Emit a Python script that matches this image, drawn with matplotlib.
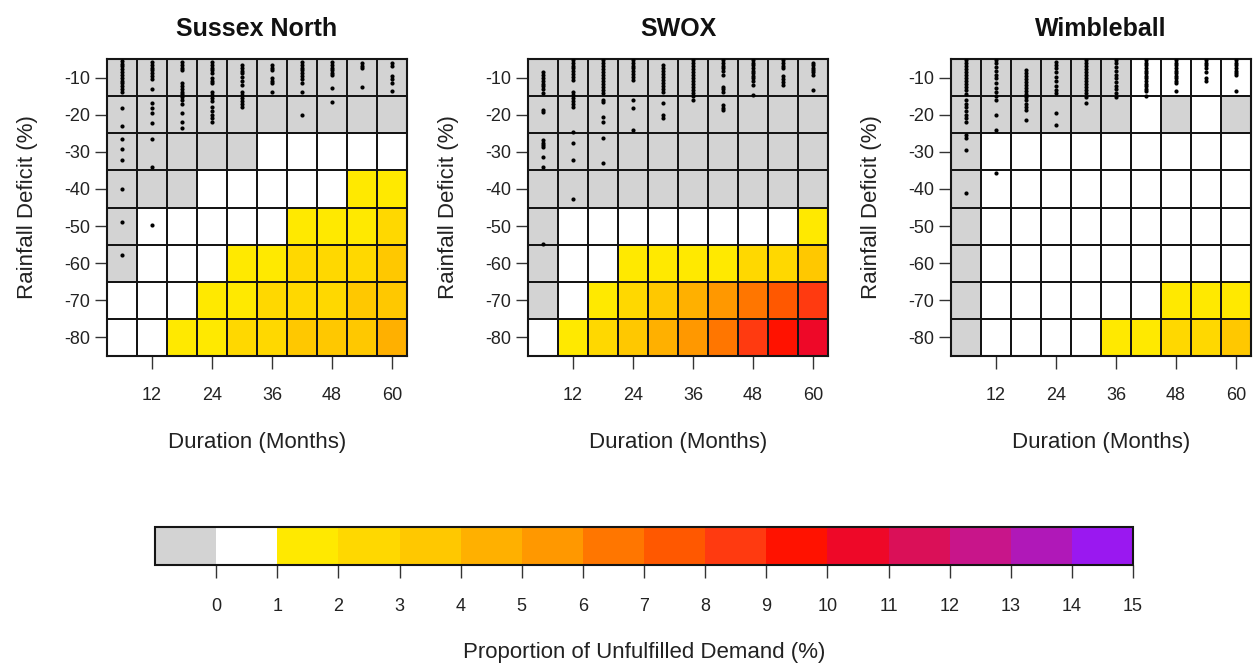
import matplotlib
matplotlib.use("Agg")
import matplotlib.pyplot as plt
import numpy as np
from matplotlib.colors import ListedColormap, BoundaryNorm
from matplotlib.cm import ScalarMappable

plt.rcParams['font.family'] = ['Liberation Sans', 'DejaVu Sans']
plt.rcParams['axes.unicode_minus'] = False

# ---------------- data ----------------
durations = [6, 12, 18, 24, 30, 36, 42, 48, 54, 60]
deficits = [-10, -20, -30, -40, -50, -60, -70, -80]
x_ticks = [12, 24, 36, 48, 60]
cbar_ticks = list(range(0, 16))
bounds = list(range(-1, 16))
titles = ["Sussex North", "SWOX", "Wimbleball"]

# proportion of unfulfilled demand (%); -0.5 = grey class, 0.5 = white class
sussex_vals = [
    [-0.5, -0.5, -0.5, -0.5, -0.5, -0.5, -0.5, -0.5, -0.5, -0.5],
    [-0.5, -0.5, -0.5, -0.5, -0.5, -0.5, -0.5, -0.5, -0.5, -0.5],
    [-0.5, -0.5, -0.5, -0.5, -0.5, 0.5, 0.5, 0.5, 0.5, 0.5],
    [-0.5, -0.5, -0.5, 0.5, 0.5, 0.5, 0.5, 0.5, 1.5, 1.5],
    [-0.5, 0.5, 0.5, 0.5, 0.5, 0.5, 1.5, 1.5, 1.5, 2.5],
    [-0.5, 0.5, 0.5, 0.5, 1.5, 1.5, 2.5, 2.5, 2.5, 3.5],
    [0.5, 0.5, 0.5, 1.5, 1.5, 2.5, 2.5, 2.5, 3.5, 3.5],
    [0.5, 0.5, 1.5, 1.5, 2.5, 2.5, 3.5, 3.5, 3.5, 4.5],
]
swox_vals = [
    [-0.5, -0.5, -0.5, -0.5, -0.5, -0.5, -0.5, -0.5, -0.5, -0.5],
    [-0.5, -0.5, -0.5, -0.5, -0.5, -0.5, -0.5, -0.5, -0.5, -0.5],
    [-0.5, -0.5, -0.5, -0.5, -0.5, -0.5, -0.5, -0.5, -0.5, -0.5],
    [-0.5, -0.5, -0.5, -0.5, -0.5, -0.5, -0.5, -0.5, -0.5, -0.5],
    [-0.5, 0.5, 0.5, 0.5, 0.5, 0.5, 0.5, 0.5, 0.5, 1.5],
    [-0.5, 0.5, 0.5, 1.5, 1.5, 1.5, 1.5, 2.5, 2.5, 3.5],
    [-0.5, 0.5, 1.5, 2.5, 3.5, 4.5, 5.5, 6.5, 7.5, 8.5],
    [0.5, 1.5, 2.5, 3.5, 4.5, 5.5, 6.5, 8.5, 9.5, 10.5],
]
wimble_vals = [
    [-0.5, -0.5, -0.5, -0.5, -0.5, -0.5, 0.5, 0.5, 0.5, 0.5],
    [-0.5, -0.5, -0.5, -0.5, -0.5, -0.5, 0.5, -0.5, 0.5, -0.5],
    [-0.5, 0.5, 0.5, 0.5, 0.5, 0.5, 0.5, 0.5, 0.5, 0.5],
    [-0.5, 0.5, 0.5, 0.5, 0.5, 0.5, 0.5, 0.5, 0.5, 0.5],
    [-0.5, 0.5, 0.5, 0.5, 0.5, 0.5, 0.5, 0.5, 0.5, 0.5],
    [-0.5, 0.5, 0.5, 0.5, 0.5, 0.5, 0.5, 0.5, 0.5, 0.5],
    [-0.5, 0.5, 0.5, 0.5, 0.5, 0.5, 0.5, 1.5, 1.5, 1.5],
    [-0.5, 0.5, 0.5, 0.5, 0.5, 1.5, 1.5, 2.5, 2.5, 3.5],
]

# historical drought events: duration -> rainfall deficits (%)
sussex_dots = {
    6: [-5.6, -6.3, -7, -7.8, -8.5, -9.2, -10, -10.8, -11.5, -12.3, -13.2, -14,
        -18.2, -23.1, -26.6, -29.3, -32.3, -39.9, -49, -57.7],
    12: [-5.8, -6.5, -7.3, -8, -8.8, -9.6, -10.5, -13.1, -16.9, -18.2, -19.6,
         -22.3, -26.6, -34.2, -49.6],
    18: [-5.8, -6.5, -7.3, -8, -11.5, -12.3, -13, -13.8, -14.5, -15.3, -16, -17,
         -19.6, -22, -23.6],
    24: [-5.8, -6.5, -7.3, -8, -8.8, -10, -10.8, -11.5, -14, -14.8, -15.5,
         -16.2, -18, -19, -20, -21, -22],
    30: [-6.6, -7.3, -8.1, -8.9, -9.9, -11, -12, -14, -14.8, -15.6, -16.4,
         -17.2, -18],
    36: [-6.6, -7.3, -8, -10, -10.8, -11.5, -14],
    42: [-5.8, -6.5, -7.3, -8, -8.8, -9.6, -10.4, -11.5, -14, -20],
    48: [-5.8, -6.5, -7.3, -8, -8.7, -9.3, -12.8, -16.6],
    54: [-6, -6.8, -7.5, -12.5],
    60: [-6, -7, -9.5, -10.5, -11.5, -13.6],
}
swox_dots = {
    6: [-8.5, -9.3, -10, -10.8, -11.6, -12.4, -13.2, -14.2, -18.8, -19.3,
        -26.9, -27.5, -28.2, -28.8, -31.5, -34.2, -54.7],
    12: [-5.3, -6, -6.8, -7.5, -8.3, -9, -9.8, -10.7, -14, -14.8, -15.6, -16.4,
         -17.2, -18, -24.7, -27.7, -32.3, -42.8],
    18: [-5.3, -6.1, -6.9, -7.7, -8.5, -9.3, -10.1, -10.9, -11.7, -12.5, -13.3,
         -14.2, -16, -16.6, -20.7, -22, -26.4, -33],
    24: [-5.3, -6, -6.8, -7.5, -8.3, -9, -9.8, -10.7, -16, -18.2, -24.2],
    30: [-6.6, -7.4, -8.2, -9, -9.8, -10.6, -11.4, -12.2, -13, -14, -16.9,
         -20, -21],
    36: [-5.3, -6.1, -6.9, -7.7, -8.5, -9.3, -10.1, -10.9, -11.7, -12.5, -13.3,
         -14.1, -15, -16],
    42: [-5.3, -6, -6.8, -7.5, -8.3, -9.3, -12.5, -13.2, -14, -17.4, -18.1,
         -18.8],
    48: [-5.3, -6, -6.7, -7.4, -8.1, -8.8, -9.5, -10.2, -11, -12, -14.7],
    54: [-5.3, -6, -6.8, -7.5, -9.5, -10.3, -11.2, -12],
    60: [-6, -6.7, -7.3, -8, -8.6, -9.3, -13.4],
}
wimble_dots = {
    6: [-5.3, -6.1, -6.9, -7.7, -8.5, -9.3, -10.1, -10.9, -11.7, -12.5, -13.3,
        -14.5, -16, -17, -18, -19, -20, -21, -22, -25.5, -26.4, -29.6, -41],
    12: [-5.3, -6.2, -7.2, -8.2, -9.2, -10.2, -11.5, -12.8, -14, -15, -16,
         -20.1, -24.2, -35.8],
    18: [-8, -8.8, -9.6, -10.4, -11.2, -12, -12.8, -13.6, -14.4, -15.2, -16,
         -17, -18, -18.8, -21.5],
    24: [-5.8, -6.6, -7.4, -8.6, -9.8, -11, -12.2, -13.4, -14.2, -19.6, -22.8],
    30: [-5.3, -6.1, -6.9, -7.7, -8.5, -9.3, -10.1, -10.9, -11.7, -12.5, -13.3,
         -14.2, -15.3, -16.9],
    36: [-5.3, -6.2, -7.2, -8.2, -9.2, -10.2, -11.2, -12.2, -13.2, -14.2, -15.3],
    42: [-5.3, -6, -6.7, -7.4, -8.1, -8.8, -9.5, -10.2, -10.9, -11.6, -12.3,
         -13, -13.7, -15],
    48: [-5.3, -6, -6.7, -7.4, -8.1, -8.8, -9.5, -10.2, -11, -11.5, -13.6],
    54: [-5.3, -6, -6.7, -7.4, -8.5, -10, -11],
    60: [-5.3, -6, -6.7, -7.4, -8.1, -8.8, -9.3, -13.6],
}

palette = ['#D3D3D3', '#FFFFFF', '#FFE900', '#FFD800', '#FFC800', '#FFB000',
           '#FF9800', '#FF7600', '#FF5800', '#FF3A10', '#FF1200', '#EE0828',
           '#DA1058', '#C8158A', '#B018B8', '#9A18F0']

# ---------------- figure ----------------
W, H = 1254, 664
fig = plt.figure(figsize=(W / 100, H / 100), dpi=100)

cmap = ListedColormap(palette)
norm = BoundaryNorm(bounds, cmap.N)

panel_left = [107, 528, 951]
panel_w = 300
panel_top, panel_bot = 59, 356
panel_h = panel_bot - panel_top

def px_axes(l, t, w, h):
    return fig.add_axes([l / W, 1 - (t + h) / H, w / W, h / H])

text_col = '#222222'
step_x = durations[1] - durations[0]
step_y = deficits[0] - deficits[1]
x_edges = [d - step_x / 2 for d in durations] + [durations[-1] + step_x / 2]
y_edges = [d + step_y / 2 for d in deficits] + [deficits[-1] - step_y / 2]

all_vals = [sussex_vals, swox_vals, wimble_vals]
all_dots = [sussex_dots, swox_dots, wimble_dots]

for i in range(3):
    ax = px_axes(panel_left[i], panel_top, panel_w, panel_h)
    ax.pcolormesh(x_edges, y_edges, np.array(all_vals[i]), cmap=cmap, norm=norm,
                  edgecolors='#151515', linewidth=1.4)
    for d, ys in all_dots[i].items():
        ax.scatter([d] * len(ys), ys, s=9, c='black', linewidths=0, zorder=3)
    ax.set_xlim(x_edges[0], x_edges[-1])
    ax.set_ylim(y_edges[-1], y_edges[0])
    ax.set_xticks(x_ticks)
    ax.set_yticks(deficits)
    ax.tick_params(axis='both', length=9, width=1.0, color='#333333',
                   labelsize=13, labelcolor=text_col)
    ax.tick_params(axis='x', pad=13)
    ax.tick_params(axis='y', pad=3)
    for s in ax.spines.values():
        s.set_linewidth(1.5)
        s.set_color('#151515')
    ax.set_xlabel("Duration (Months)", fontsize=16, color=text_col)
    ax.xaxis.set_label_coords(0.5, (panel_bot - 432) / panel_h)
    ax.set_ylabel("Rainfall Deficit (%)", fontsize=16, color=text_col)
    ax.yaxis.set_label_coords((38 - 107) / panel_w, 0.5)
    ax.text(0.5, 1 + 30 / panel_h, titles[i], transform=ax.transAxes,
            ha='center', va='center', fontsize=18, fontweight='bold', color='#111111')

# colorbar
cax = px_axes(155, 527, 978, 38)
cb = fig.colorbar(ScalarMappable(norm=norm, cmap=cmap), cax=cax,
                  orientation='horizontal', ticks=cbar_ticks)
cb.minorticks_off()
cb.outline.set_linewidth(1.5)
cb.outline.set_edgecolor('#151515')
cax.tick_params(length=9, width=1.0, color='#333333', labelsize=13,
                labelcolor=text_col, pad=15)
cb.set_label("Proportion of Unfulfilled Demand (%)", fontsize=16, color=text_col,
             labelpad=19)

fig.savefig("out.png", dpi=100)
